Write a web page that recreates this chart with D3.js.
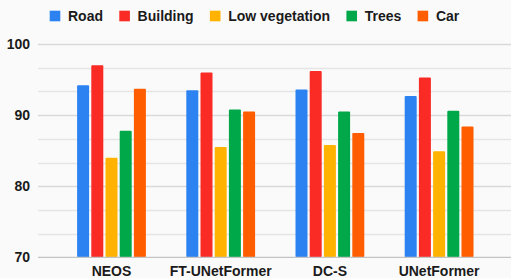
<!DOCTYPE html>
<html><head><meta charset="utf-8">
<script src="https://cdn.jsdelivr.net/npm/d3@7"></script>
<style>html,body{margin:0;padding:0;background:#fafafa;}svg{display:block;font-family:"Liberation Sans",Arial,sans-serif;}</style>
</head><body>
<script>
const categories = ["NEOS", "FT-UNetFormer", "DC-S", "UNetFormer"];
const seriesNames = ["Road", "Building", "Low vegetation", "Trees", "Car"];
const seriesColors = ["#2d82f2", "#fa2a24", "#ffb300", "#00a84a", "#ff5d00"];
const road = [94.2, 93.5, 93.6, 92.7];
const building = [97.0, 96.0, 96.2, 95.3];
const lowVegetation = [84.0, 85.5, 85.8, 84.9];
const trees = [87.8, 90.8, 90.5, 90.6];
const car = [93.7, 90.5, 87.5, 88.4];
const yTicks = [70, 80, 90, 100];

const series = [road, building, lowVegetation, trees, car];
const W = 511, H = 278;
const svg = d3.select("body").append("svg").attr("width", W).attr("height", H);
svg.append("rect").attr("width", W).attr("height", H).attr("fill", "#fafafa");

const y = d3.scaleLinear().domain([70, 100]).range([257.3, 44]);
const x0 = d3.scaleBand().domain(categories).range([56.9, 493.7]).padding(0);
const bw = x0.bandwidth();
const x1 = d3.scaleBand().domain(seriesNames).range([bw * 0.185, bw * 0.815]).paddingInner(0.155).paddingOuter(0);

// gridlines
const minor = d3.range(0, 10).map(i => 70 + i * 10 / 3);
svg.append("g").selectAll("line").data(minor.filter(v => v > 70.01)).join("line")
  .attr("x1", 38).attr("x2", W)
  .attr("y1", d => Math.round(y(d)) + 0.5).attr("y2", d => Math.round(y(d)) + 0.5)
  .attr("stroke", d => yTicks.some(t => Math.abs(t - d) < 0.01) ? "#d9d9d9" : "#e5e5e5")
  .attr("stroke-width", 1.3);

// y labels
svg.append("g").selectAll("text").data(yTicks).join("text")
  .attr("x", 30).attr("y", d => y(d)).attr("dy", "0.36em")
  .attr("text-anchor", "end").attr("font-size", 14).attr("font-weight", "bold").attr("fill", "#1a1a1a")
  .text(d => d);

// bars
const g = svg.append("g");
categories.forEach((c, ci) => {
  seriesNames.forEach((s, si) => {
    const v = series[si][ci];
    g.append("rect")
      .attr("x", x0(c) + x1(s)).attr("width", x1.bandwidth())
      .attr("y", y(v)).attr("height", y(70) - y(v))
      .attr("rx", 1).attr("fill", seriesColors[si]);
  });
});

// baseline
svg.append("line").attr("x1", 38).attr("x2", W).attr("y1", y(70)).attr("y2", y(70))
  .attr("stroke", "#c4c4c4").attr("stroke-width", 1.3);

// x labels
svg.append("g").selectAll("text").data(categories).join("text")
  .attr("x", d => x0(d) + bw / 2).attr("y", 276.3)
  .attr("text-anchor", "middle").attr("font-size", 14).attr("font-weight", "bold").attr("fill", "#1a1a1a")
  .text(d => d);

// legend
const leg = svg.append("g");
let lx = 49.7;
seriesNames.forEach((s, i) => {
  leg.append("rect").attr("x", lx).attr("y", 10.7).attr("width", 10.6).attr("height", 10.6).attr("fill", seriesColors[i]);
  const t = leg.append("text").attr("x", lx + 18.3).attr("y", 16).attr("dy", "0.36em")
    .attr("font-size", 14).attr("font-weight", "bold").attr("fill", "#1a1a1a").text(s);
  lx = lx + 18.3 + t.node().getComputedTextLength() + 16.3;
});
</script>
</body></html>
